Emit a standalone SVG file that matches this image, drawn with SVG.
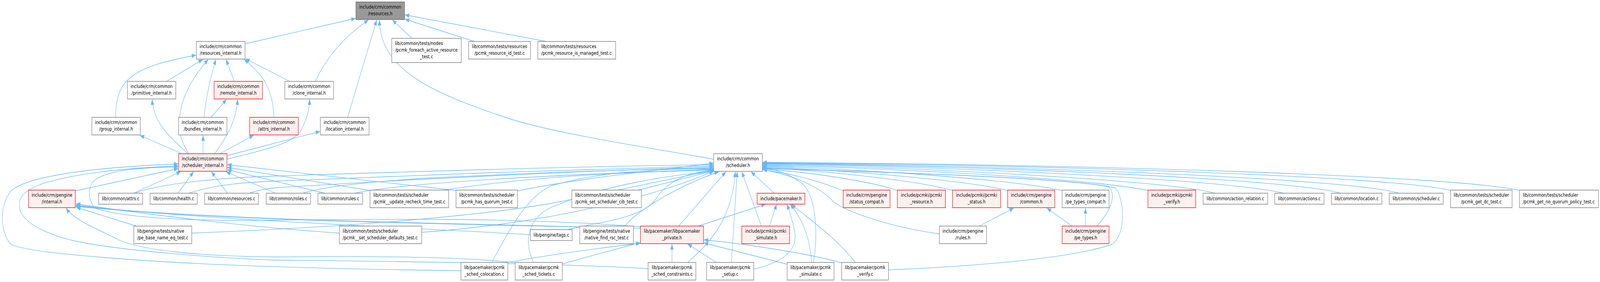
<svg xmlns="http://www.w3.org/2000/svg" width="5224" height="721" viewBox="0 0 5224 721" preserveAspectRatio="none">
<style>
svg{width:100vw;height:100vh}
.n{fill:#ffffff;stroke:#777777;stroke-width:1.4}
.r{fill:#FFF0F0;stroke:#FF0000;stroke-width:1.4}
.g{fill:#999999;stroke:#666666;stroke-width:1.4}
text{font-family:"DejaVu Sans",sans-serif;font-size:13px;fill:#000000;text-anchor:middle}
text.l{text-anchor:start}
.e{fill:none;stroke:#63B8FF;stroke-width:1.3;marker-end:url(#ah)}
</style>
<defs>
<marker id="ah" markerUnits="userSpaceOnUse" markerWidth="16" markerHeight="12" refX="14" refY="5.5" orient="auto">
<path d="M0,0L14,5.5L0,11z" fill="#63B8FF"/>
</marker>
</defs>
<rect width="5224" height="721" fill="#ffffff"/>
<g id="edges">
<path class="e" d="M800,112 L1161,47"/>
<path class="e" d="M1029,208 C1070,140 1130,90 1203,51"/>
<path class="e" d="M1135,300 L1230,51"/>
<path class="e" d="M2330,407 C2100,375 1800,340 1650,300 C1420,240 1240,180 1239,51"/>
<path class="e" d="M1345,98 L1281,51"/>
<path class="e" d="M1549,106 L1322,49"/>
<path class="e" d="M1784,106 L1322,38"/>
<path class="e" d="M544,208 L662,152"/>
<path class="e" d="M378,300 C375,200 440,170 640,141"/>
<path class="e" d="M765,208 L738,152"/>
<path class="e" d="M666,300 C672,250 690,190 705,152"/>
<path class="e" d="M894,300 C892,230 860,190 797,152"/>
<path class="e" d="M946,208 L801,150"/>
<path class="e" d="M617,393 C560,330 580,240 680,152"/>
<path class="e" d="M689,300 L740,254"/>
<path class="e" d="M701,393 C730,360 770,320 776,254"/>
<path class="e" d="M594,393 L457,346"/>
<path class="e" d="M614,393 C570,360 500,320 497,254"/>
<path class="e" d="M663,393 L663,346"/>
<path class="e" d="M718,393 L828,346"/>
<path class="e" d="M741,407 C850,385 960,370 985,330 C1000,305 1010,285 1011,254"/>
<path class="e" d="M741,398 C850,375 950,355 1045,336"/>
<path class="e" d="M246,488 L582,431"/>
<path class="e" d="M436,494 L590,439"/>
<path class="e" d="M581,494 L632,439"/>
<path class="e" d="M743,494 L690,439"/>
<path class="e" d="M900,494 L738,439"/>
<path class="e" d="M1061,494 L742,434"/>
<path class="e" d="M1208,487 L742,428"/>
<path class="e" d="M1489,487 L742,421"/>
<path class="e" d="M1505,692 C1100,688 700,680 400,662 C200,650 80,640 37,625 C0,600 -5,520 40,485 C120,440 400,425 582,419"/>
<path class="e" d="M2116,687 C1900,675 1300,668 900,665 C700,660 400,640 270,620 C180,607 90,580 66,540 C55,505 75,490 130,472 C250,440 450,428 582,424"/>
<path class="e" d="M2092,580 C1700,555 1200,560 900,563 C650,565 420,560 313,533 C285,515 285,475 310,460 C360,432 480,428 582,427"/>
<path class="e" d="M1682,672 C1500,655 1200,655 900,657 C650,655 450,640 380,610 C300,580 240,560 216,532"/>
<path class="e" d="M445,578 L249,530"/>
<path class="e" d="M1108,596 C800,580 450,545 248,521"/>
<path class="e" d="M1732,600 C1300,580 600,560 248,524"/>
<path class="e" d="M1895,580 C1500,570 700,565 248,526"/>
<path class="e" d="M2092,584 C1700,575 800,570 248,528"/>
<path class="e" d="M440,494 C520,470 700,455 900,450 C1300,440 1900,425 2330,421"/>
<path class="e" d="M617,494 C700,472 800,466 900,463 C1300,450 1950,430 2330,424"/>
<path class="e" d="M813,494 C840,487 870,482 900,480 C1300,460 1950,435 2330,427"/>
<path class="e" d="M989,494 C1050,478 1200,465 1400,455 C1800,440 2100,432 2330,430"/>
<path class="e" d="M1158,494 C1300,470 1700,450 2330,433"/>
<path class="e" d="M1450,486 C1700,455 2000,440 2330,435"/>
<path class="e" d="M1690,488 C1900,455 2100,440 2330,417"/>
<path class="e" d="M1377,594 C1800,570 2150,500 2331,437"/>
<path class="e" d="M626,596 C1000,585 1500,560 1800,520 C2000,490 2200,455 2330,436"/>
<path class="e" d="M2084,486 L2330,437"/>
<path class="e" d="M1852,587 C1980,565 2100,555 2140,510 C2180,460 2250,440 2330,436"/>
<path class="e" d="M2040,578 C2080,540 2200,480 2347,439"/>
<path class="e" d="M2216,578 L2370,439"/>
<path class="e" d="M1606,671 C1680,560 1730,500 1800,475 C1950,440 2150,430 2330,432"/>
<path class="e" d="M1742,671 C1710,620 1720,560 1800,530 C1950,480 2150,450 2330,438"/>
<path class="e" d="M2245,671 C2320,620 2390,560 2401,439"/>
<path class="e" d="M2388,671 L2407,439"/>
<path class="e" d="M2486,578 L2422,439"/>
<path class="e" d="M2528,494 L2452,439"/>
<path class="e" d="M2279,578 L2500,522"/>
<path class="e" d="M2512,578 L2536,522"/>
<path class="e" d="M2462,688 C2560,670 2600,640 2596,600 C2590,570 2580,545 2569,522"/>
<path class="e" d="M2650,671 C2645,610 2620,560 2580,522"/>
<path class="e" d="M2793,671 C2720,600 2640,560 2584,522"/>
<path class="e" d="M1659,671 C1800,650 1950,635 2090,622"/>
<path class="e" d="M1834,675 L2090,620"/>
<path class="e" d="M2194,671 L2194,624"/>
<path class="e" d="M2339,671 L2245,624"/>
<path class="e" d="M2572,676 L2298,621"/>
<path class="e" d="M2748,672 C2650,650 2450,625 2298,613"/>
<path class="e" d="M2656,671 C2672,600 2665,500 2620,470 C2580,445 2540,435 2490,428"/>
<path class="e" d="M2901,690 C3200,680 3500,660 3630,625 C3680,600 3670,500 3640,480 C3500,455 2900,440 2490,430"/>
<path class="e" d="M3581,578 C3620,545 3650,500 3620,478 C3500,455 2900,440 2490,431"/>
<path class="e" d="M3544,578 L3544,532"/>
<path class="e" d="M3500,578 L3418,532"/>
<path class="e" d="M3197,578 L3310,532"/>
<path class="e" d="M3067,598 C2900,580 2760,540 2720,515 C2680,480 2600,450 2490,433"/>
<path class="e" d="M2753,488 C2700,470 2600,445 2490,434"/>
<path class="e" d="M2930,487 C2850,465 2650,440 2490,432"/>
<path class="e" d="M3110,487 C3000,462 2700,437 2490,429"/>
<path class="e" d="M3290,487 C3150,460 2750,435 2490,427"/>
<path class="e" d="M3468,487 C3300,458 2800,432 2490,425"/>
<path class="e" d="M3748,487 C3550,455 2900,430 2490,423"/>
<path class="e" d="M3968,494 C3800,460 3000,428 2490,421"/>
<path class="e" d="M4192,494 C4000,458 3100,426 2490,419"/>
<path class="e" d="M4378,494 C4200,456 3200,424 2490,418"/>
<path class="e" d="M4568,494 C4400,455 3300,423 2490,417"/>
<path class="e" d="M4736,487 C4550,450 3400,421 2490,416"/>
<path class="e" d="M4961,487 C4750,448 3500,420 2490,415"/>
</g>
<g id="n_resources_h"><rect class="g" x="1162" y="5" width="159" height="45"/><text x="1241.5" y="22.5">include/crm/common</text><text x="1241.5" y="39.5">/resources.h</text></g>
<g id="n_resources_internal_h"><rect class="n" x="641" y="106" width="159" height="45"/><text x="720.5" y="123.5">include/crm/common</text><text x="720.5" y="140.5">/resources_internal.h</text></g>
<g id="n_foreach_test"><rect class="n" x="1279" y="98" width="227" height="62"/><text class="l" x="1290" y="115.5">lib/common/tests/nodes</text><text class="l" x="1290" y="132.5">/pcmk_foreach_active_resource</text><text x="1392.5" y="149.5">_test.c</text></g>
<g id="n_resource_id_test"><rect class="n" x="1530" y="106" width="202" height="45"/><text x="1631" y="123.5">lib/common/tests/resources</text><text x="1631" y="140.5">/pcmk_resource_id_test.c</text></g>
<g id="n_resource_is_managed_test"><rect class="n" x="1756" y="106" width="254" height="45"/><text class="l" x="1767" y="123.5">lib/common/tests/resources</text><text class="l" x="1767" y="140.5">/pcmk_resource_is_managed_test.c</text></g>
<g id="n_primitive_internal_h"><rect class="n" x="416" y="208" width="158" height="45"/><text x="495" y="225.5">include/crm/common</text><text x="495" y="242.5">/primitive_internal.h</text></g>
<g id="n_remote_internal_h"><rect class="r" x="699" y="208" width="158" height="45"/><text x="778" y="225.5">include/crm/common</text><text x="778" y="242.5">/remote_internal.h</text></g>
<g id="n_clone_internal_h"><rect class="n" x="930" y="208" width="159" height="45"/><text x="1009.5" y="225.5">include/crm/common</text><text x="1009.5" y="242.5">/clone_internal.h</text></g>
<g id="n_group_internal_h"><rect class="n" x="300" y="300" width="158" height="45"/><text x="379" y="317.5">include/crm/common</text><text x="379" y="334.5">/group_internal.h</text></g>
<g id="n_bundles_internal_h"><rect class="n" x="583" y="300" width="158" height="45"/><text x="662" y="317.5">include/crm/common</text><text x="662" y="334.5">/bundles_internal.h</text></g>
<g id="n_attrs_internal_h"><rect class="r" x="815" y="300" width="159" height="45"/><text x="894.5" y="317.5">include/crm/common</text><text x="894.5" y="334.5">/attrs_internal.h</text></g>
<g id="n_location_internal_h"><rect class="n" x="1046" y="300" width="159" height="45"/><text x="1125.5" y="317.5">include/crm/common</text><text x="1125.5" y="334.5">/location_internal.h</text></g>
<g id="n_scheduler_internal_h"><rect class="r" x="583" y="393" width="158" height="45"/><text x="662" y="410.5">include/crm/common</text><text x="662" y="427.5">/scheduler_internal.h</text></g>
<g id="n_scheduler_h"><rect class="n" x="2330" y="393" width="159" height="45"/><text x="2409.5" y="410.5">include/crm/common</text><text x="2409.5" y="427.5">/scheduler.h</text></g>
<g id="n_pengine_internal_h"><rect class="r" x="93" y="486" width="153" height="45"/><text x="169.5" y="503.5">include/crm/pengine</text><text x="169.5" y="520.5">/internal.h</text></g>
<g id="n_attrs_c"><rect class="n" x="322" y="494" width="144" height="28"/><text x="394" y="512.5">lib/common/attrs.c</text></g>
<g id="n_health_c"><rect class="n" x="490" y="494" width="154" height="28"/><text x="567" y="512.5">lib/common/health.c</text></g>
<g id="n_resources_c"><rect class="n" x="668" y="494" width="176" height="28"/><text x="756" y="512.5">lib/common/resources.c</text></g>
<g id="n_roles_c"><rect class="n" x="869" y="494" width="145" height="28"/><text x="941.5" y="512.5">lib/common/roles.c</text></g>
<g id="n_rules_c"><rect class="n" x="1038" y="494" width="146" height="28"/><text x="1111" y="512.5">lib/common/rules.c</text></g>
<g id="n_update_recheck_time_test"><rect class="n" x="1208" y="486" width="257" height="45"/><text class="l" x="1219" y="503.5">lib/common/tests/scheduler</text><text class="l" x="1219" y="520.5">/pcmk__update_recheck_time_test.c</text></g>
<g id="n_has_quorum_test"><rect class="n" x="1489" y="486" width="201" height="45"/><text x="1589.5" y="503.5">lib/common/tests/scheduler</text><text x="1589.5" y="520.5">/pcmk_has_quorum_test.c</text></g>
<g id="n_set_scheduler_cib_test"><rect class="n" x="1867" y="486" width="227" height="45"/><text class="l" x="1878" y="503.5">lib/common/tests/scheduler</text><text class="l" x="1878" y="520.5">/pcmk_set_scheduler_cib_test.c</text></g>
<g id="n_pacemaker_h"><rect class="r" x="2472" y="494" width="156" height="28"/><text x="2550" y="512.5">include/pacemaker.h</text></g>
<g id="n_status_compat_h"><rect class="r" x="2753" y="486" width="153" height="45"/><text x="2829.5" y="503.5">include/crm/pengine</text><text x="2829.5" y="520.5">/status_compat.h</text></g>
<g id="n_pcmki_resource_h"><rect class="r" x="2930" y="486" width="157" height="45"/><text x="3008.5" y="503.5">include/pcmki/pcmki</text><text x="3008.5" y="520.5">_resource.h</text></g>
<g id="n_pcmki_status_h"><rect class="r" x="3110" y="486" width="157" height="45"/><text x="3188.5" y="503.5">include/pcmki/pcmki</text><text x="3188.5" y="520.5">_status.h</text></g>
<g id="n_pengine_common_h"><rect class="r" x="3290" y="486" width="154" height="45"/><text x="3367" y="503.5">include/crm/pengine</text><text x="3367" y="520.5">/common.h</text></g>
<g id="n_pe_types_compat_h"><rect class="n" x="3468" y="486" width="153" height="45"/><text x="3544.5" y="503.5">include/crm/pengine</text><text x="3544.5" y="520.5">/pe_types_compat.h</text></g>
<g id="n_pcmki_verify_h"><rect class="r" x="3748" y="486" width="156" height="45"/><text x="3826" y="503.5">include/pcmki/pcmki</text><text x="3826" y="520.5">_verify.h</text></g>
<g id="n_action_relation_c"><rect class="n" x="3928" y="494" width="211" height="28"/><text x="4033.5" y="512.5">lib/common/action_relation.c</text></g>
<g id="n_actions_c"><rect class="n" x="4162" y="494" width="161" height="28"/><text x="4242.5" y="512.5">lib/common/actions.c</text></g>
<g id="n_location_c"><rect class="n" x="4347" y="494" width="165" height="28"/><text x="4429.5" y="512.5">lib/common/location.c</text></g>
<g id="n_scheduler_c"><rect class="n" x="4536" y="494" width="176" height="28"/><text x="4624" y="512.5">lib/common/scheduler.c</text></g>
<g id="n_get_dc_test"><rect class="n" x="4736" y="486" width="201" height="45"/><text x="4836.5" y="503.5">lib/common/tests/scheduler</text><text x="4836.5" y="520.5">/pcmk_get_dc_test.c</text></g>
<g id="n_get_no_quorum_policy_test"><rect class="n" x="4961" y="486" width="258" height="45"/><text class="l" x="4972" y="503.5">lib/common/tests/scheduler</text><text class="l" x="4972" y="520.5">/pcmk_get_no_quorum_policy_test.c</text></g>
<g id="n_pe_base_name_eq_test"><rect class="n" x="437" y="578" width="189" height="45"/><text class="l" x="448" y="595.5">lib/pengine/tests/native</text><text class="l" x="448" y="612.5">/pe_base_name_eq_test.c</text></g>
<g id="n_set_scheduler_defaults_test"><rect class="n" x="1108" y="578" width="269" height="45"/><text class="l" x="1119" y="595.5">lib/common/tests/scheduler</text><text class="l" x="1119" y="612.5">/pcmk__set_scheduler_defaults_test.c</text></g>
<g id="n_tags_c"><rect class="n" x="1732" y="587" width="136" height="28"/><text x="1800" y="605.5">lib/pengine/tags.c</text></g>
<g id="n_native_find_rsc_test"><rect class="n" x="1893" y="578" width="175" height="45"/><text x="1980.5" y="595.5">lib/pengine/tests/native</text><text x="1980.5" y="612.5">/native_find_rsc_test.c</text></g>
<g id="n_libpacemaker_private_h"><rect class="r" x="2091" y="578" width="206" height="45"/><text x="2194" y="595.5">lib/pacemaker/libpacemaker</text><text x="2194" y="612.5">_private.h</text></g>
<g id="n_pcmki_simulate_h"><rect class="r" x="2422" y="578" width="156" height="45"/><text x="2500" y="595.5">include/pcmki/pcmki</text><text x="2500" y="612.5">_simulate.h</text></g>
<g id="n_rules_h"><rect class="n" x="3067" y="578" width="154" height="45"/><text x="3144" y="595.5">include/crm/pengine</text><text x="3144" y="612.5">/rules.h</text></g>
<g id="n_pe_types_h"><rect class="r" x="3468" y="578" width="153" height="45"/><text x="3544.5" y="595.5">include/crm/pengine</text><text x="3544.5" y="612.5">/pe_types.h</text></g>
<g id="n_sched_colocation_c"><rect class="n" x="1505" y="671" width="153" height="45"/><text x="1581.5" y="688.5">lib/pacemaker/pcmk</text><text x="1581.5" y="705.5">_sched_colocation.c</text></g>
<g id="n_sched_tickets_c"><rect class="n" x="1682" y="671" width="154" height="45"/><text x="1759" y="688.5">lib/pacemaker/pcmk</text><text x="1759" y="705.5">_sched_tickets.c</text></g>
<g id="n_sched_constraints_c"><rect class="n" x="2116" y="671" width="156" height="45"/><text x="2194" y="688.5">lib/pacemaker/pcmk</text><text x="2194" y="705.5">_sched_constraints.c</text></g>
<g id="n_setup_c"><rect class="n" x="2307" y="671" width="154" height="45"/><text x="2384" y="688.5">lib/pacemaker/pcmk</text><text x="2384" y="705.5">_setup.c</text></g>
<g id="n_simulate_c"><rect class="n" x="2570" y="671" width="153" height="45"/><text x="2646.5" y="688.5">lib/pacemaker/pcmk</text><text x="2646.5" y="705.5">_simulate.c</text></g>
<g id="n_verify_c"><rect class="n" x="2748" y="671" width="153" height="45"/><text x="2824.5" y="688.5">lib/pacemaker/pcmk</text><text x="2824.5" y="705.5">_verify.c</text></g>
</svg>
